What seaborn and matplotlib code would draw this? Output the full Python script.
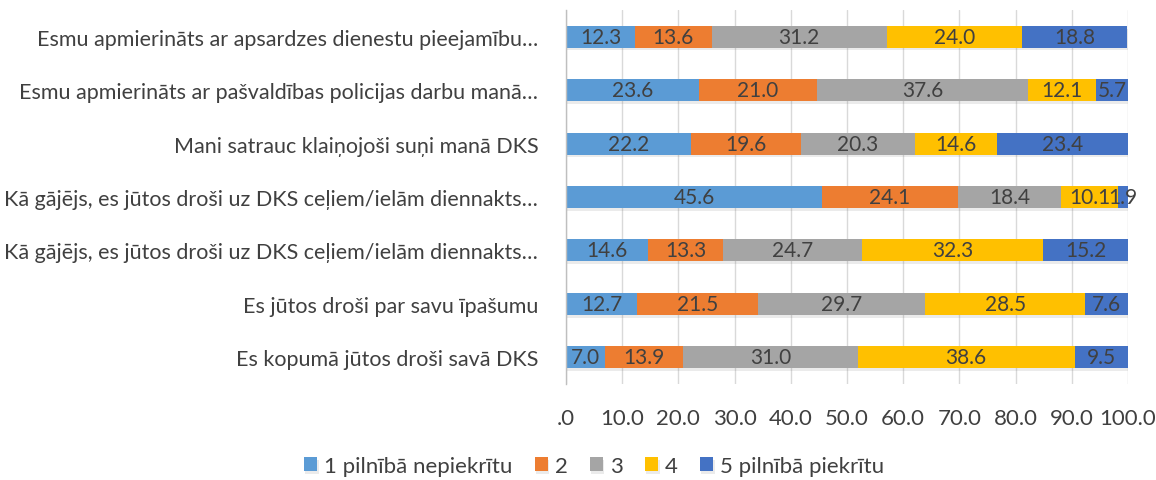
import numpy as np
import pandas as pd
import matplotlib
matplotlib.use("Agg")
import matplotlib.pyplot as plt
import matplotlib.patheffects as pe
import seaborn as sns

# Survey statements (top to bottom) and answer shares in percent
statements = [
    "Esmu apmierināts ar apsardzes dienestu pieejamību…",
    "Esmu apmierināts ar pašvaldības policijas darbu manā…",
    "Mani satrauc klaiņojoši suņi manā DKS",
    "Kā gājējs, es jūtos droši uz DKS ceļiem/ielām diennakts…",
    "Kā gājējs, es jūtos droši uz DKS ceļiem/ielām diennakts…",
    "Es jūtos droši par savu īpašumu",
    "Es kopumā jūtos droši savā DKS",
]
answers = ["1 pilnībā nepiekrītu", "2", "3", "4", "5 pilnībā piekrītu"]
score_1 = [12.3, 23.6, 22.2, 45.6, 14.6, 12.7, 7.0]
score_2 = [13.6, 21.0, 19.6, 24.1, 13.3, 21.5, 13.9]
score_3 = [31.2, 37.6, 20.3, 18.4, 24.7, 29.7, 31.0]
score_4 = [24.0, 12.1, 14.6, 10.1, 32.3, 28.5, 38.6]
score_5 = [18.8, 5.7, 23.4, 1.9, 15.2, 7.6, 9.5]
xticks = [0, 10, 20, 30, 40, 50, 60, 70, 80, 90, 100]
xtick_labels = [".0", "10.0", "20.0", "30.0", "40.0", "50.0", "60.0", "70.0", "80.0", "90.0", "100.0"]

colors = ["#5B9BD5", "#ED7D31", "#A5A5A5", "#FFC000", "#4472C4"]
series = [score_1, score_2, score_3, score_4, score_5]

sns.set_theme(style="white")
plt.rcParams["font.family"] = ["Lato", "DejaVu Sans"]

fig = plt.figure(figsize=(11.56, 4.81), dpi=100)
ax = fig.add_axes([0.4896, 0.1996, 0.4862, 0.7775])

# row keys keep the two identical statements apart
row_keys = [f"r{i}" for i in range(len(statements))]
left = np.zeros(len(statements))
shadow = [pe.SimplePatchShadow(offset=(1.0, -2.0), alpha=0.12, shadow_rgbFace="#606060"), pe.Normal()]
for name, vals, col in zip(answers, series, colors):
    df = pd.DataFrame({"row": row_keys, "value": vals})
    sns.barplot(data=df, x="value", y="row", order=row_keys, color=col, orient="h",
                width=0.41, left=left, ax=ax, label=name, saturation=1,
                linewidth=0, errorbar=None)
    cont = ax.containers[-1]
    for bar in cont:
        bar.set_path_effects(shadow)
    ax.bar_label(cont, labels=[f"{v:.1f}" for v in vals], label_type="center",
                 fontsize=15, color="#404040")
    left = left + np.array(vals)

ax.set_xlim(0, 100)
ax.set_ylim(len(statements) - 0.5, -0.5)
ax.set_xticks(xticks)
ax.set_xticklabels(xtick_labels, fontsize=16, color="#404040")
ax.set_yticks(range(len(statements)))
ax.set_yticklabels(statements, fontsize=15.5, color="#404040")
ax.tick_params(axis="x", length=0, pad=17)
ax.tick_params(axis="y", length=0, pad=20)
ax.set_xlabel("")
ax.set_ylabel("")
ax.grid(axis="x", color="#D9D9D9", linewidth=1)
ax.set_axisbelow(True)
for side in ["top", "right", "bottom"]:
    ax.spines[side].set_visible(False)
ax.spines["left"].set_color("#BFBFBF")
ax.spines["left"].set_linewidth(1)

handles, labels = ax.get_legend_handles_labels()
ax.legend(handles, labels, loc="center", bbox_to_anchor=(594 / 1156, 1 - 467 / 481),
          bbox_transform=fig.transFigure, ncol=5, frameon=False, fontsize=16,
          handlelength=0.6, handleheight=0.6, handletextpad=0.3, columnspacing=1.0,
          labelcolor="#404040")

fig.savefig("out.png", dpi=100)
